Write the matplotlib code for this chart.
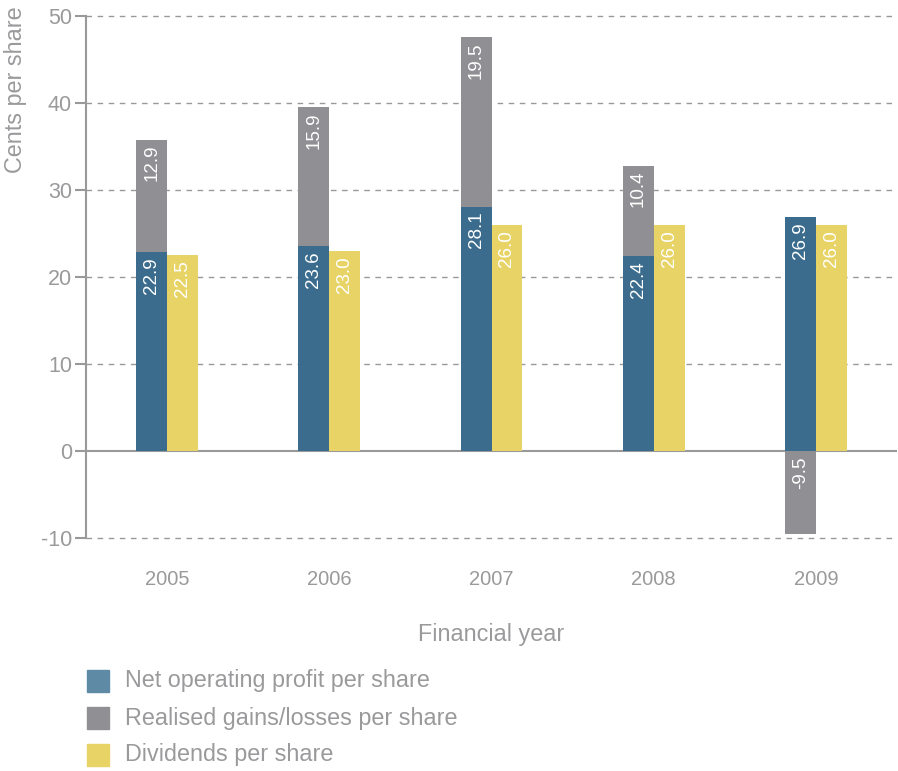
import matplotlib.pyplot as plt
import numpy as np

# Dados do gráfico
anos = ['2005', '2006', '2007', '2008', '2009']
lucro_operacional = [22.9, 23.6, 28.1, 22.4, 26.9]
ganhos_realizados = [12.9, 15.9, 19.5, 10.4, -9.5]
dividendos = [22.5, 23.0, 26.0, 26.0, 26.0]
rotulos_legenda = ['Net operating profit per share',
                   'Realised gains/losses per share',
                   'Dividends per share']

cor_azul = '#3b6c8e'
cor_azul_leg = '#5f8aa6'
cor_cinza = '#909094'
cor_amarelo = '#e8d466'
cor_texto = '#9a9a9c'

plt.rcParams['font.family'] = ['Liberation Sans', 'DejaVu Sans']
plt.rcParams['axes.unicode_minus'] = False

fig = plt.figure(figsize=(8.98, 7.71), dpi=100)
ax = fig.add_axes([86 / 898, 1 - 538 / 771, (897 - 86) / 898, (538 - 16) / 771])

x = np.arange(len(anos))
largura = 0.19

# Base do segmento cinza: em cima do azul se positivo, a partir do zero se negativo
base_cinza = [l if g >= 0 else 0 for l, g in zip(lucro_operacional, ganhos_realizados)]

ax.bar(x - largura / 2, lucro_operacional, largura, color=cor_azul, zorder=3)
ax.bar(x - largura / 2, ganhos_realizados, largura, bottom=base_cinza, color=cor_cinza, zorder=3)
ax.bar(x + largura / 2, dividendos, largura, color=cor_amarelo, zorder=3)

# Rótulos dentro das barras
pad = 0.6
for i in range(len(anos)):
    ax.text(x[i] - largura / 2, lucro_operacional[i] - pad, f'{lucro_operacional[i]:.1f}',
            rotation=90, ha='center', va='top', color='white', fontsize=13.5, zorder=4)
    topo = base_cinza[i] + ganhos_realizados[i] if ganhos_realizados[i] >= 0 else 0
    ax.text(x[i] - largura / 2, topo - pad, f'{ganhos_realizados[i]:.1f}',
            rotation=90, ha='center', va='top', color='white', fontsize=13.5, zorder=4)
    ax.text(x[i] + largura / 2, dividendos[i] - pad, f'{dividendos[i]:.1f}',
            rotation=90, ha='center', va='top', color='white', fontsize=13.5, zorder=4)

ax.set_xlim(-0.5, 4.5)
ax.set_ylim(-10, 50)
ax.set_yticks(range(-10, 51, 10))
ax.set_xticks(x)
ax.set_xticklabels(anos)

for v in range(-10, 51, 10):
    if v != 0:
        ax.axhline(v, color='#999999', lw=1, ls=(0, (4, 4)), zorder=1, clip_on=False)
ax.axhline(0, color='#999999', lw=1.5, zorder=2)

for s in ['top', 'right', 'bottom']:
    ax.spines[s].set_visible(False)
ax.spines['left'].set_color('#999999')
ax.spines['left'].set_linewidth(1.5)
ax.tick_params(axis='y', colors='#999999', labelcolor=cor_texto, labelsize=15.5,
               length=8, width=1.5, pad=2)
ax.tick_params(axis='x', length=0, labelcolor=cor_texto, labelsize=14.5, pad=23)

fig.text(491 / 898, 1 - 634 / 771, 'Financial year', ha='center', va='center',
         color=cor_texto, fontsize=16.8)
fig.text(16 / 898, 1 - 90 / 771, 'Cents per share', ha='center', va='center',
         rotation=90, color=cor_texto, fontsize=16.8)

# Legenda manual
cores_leg = [cor_azul_leg, cor_cinza, cor_amarelo]
for j, (rot, c) in enumerate(zip(rotulos_legenda, cores_leg)):
    yc = 1 - (681 + 37 * j) / 771
    fig.patches.append(plt.Rectangle((87 / 898, yc - 11 / 771), 22 / 898, 22 / 771,
                                     transform=fig.transFigure, color=c, figure=fig))
    fig.text(125 / 898, yc, rot, ha='left', va='center', color=cor_texto, fontsize=16.8)

fig.savefig('out.png', dpi=100)
